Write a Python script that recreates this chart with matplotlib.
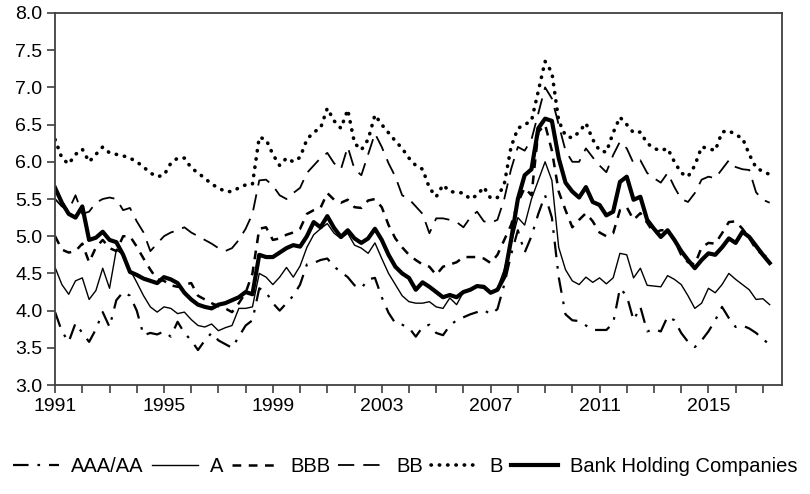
import numpy as np
import matplotlib
matplotlib.use("Agg")
import matplotlib.pyplot as plt

plt.rcParams['font.family'] = ['Liberation Sans', 'DejaVu Sans']

# quarterly spreads, 1991Q1 .. 2017Q2
aaa_aa = [3.98, 3.72, 3.58, 3.83, 3.70, 3.58, 3.75, 3.98, 3.78, 4.14,
          4.25, 4.20, 4.00, 3.67, 3.70, 3.68, 3.72, 3.65, 3.85, 3.70,
          3.60, 3.47, 3.60, 3.70, 3.60, 3.55, 3.50, 3.65, 3.80, 3.87,
          4.30, 4.25, 4.10, 4.00, 4.10, 4.20, 4.35, 4.62, 4.64, 4.68,
          4.70, 4.59, 4.52, 4.45, 4.34, 4.30, 4.42, 4.44, 4.18, 3.97,
          3.83, 3.81, 3.77, 3.65, 3.78, 3.81, 3.70, 3.67, 3.80, 3.87,
          3.91, 3.95, 3.98, 4.01, 3.95, 4.02, 4.35, 4.75, 5.08, 4.78,
          5.00, 5.30, 5.55, 5.25, 4.45, 3.95, 3.87, 3.86, 3.80, 3.74,
          3.74, 3.74, 3.83, 4.30, 4.20, 3.87, 4.05, 3.72, 3.75, 3.72,
          3.92, 3.87, 3.70, 3.58, 3.51, 3.60, 3.72, 3.87, 4.05, 3.90,
          3.78, 3.80, 3.76, 3.70, 3.62, 3.54]
a_rated = [4.58, 4.35, 4.22, 4.40, 4.44, 4.15, 4.27, 4.57, 4.30, 4.82,
           4.75, 4.55, 4.38, 4.20, 4.05, 3.98, 4.05, 4.03, 3.96, 3.98,
           3.88, 3.80, 3.78, 3.82, 3.73, 3.77, 3.80, 4.03, 4.03, 4.05,
           4.50, 4.45, 4.35, 4.45, 4.58, 4.45, 4.60, 4.85, 5.02, 5.10,
           5.17, 5.04, 4.97, 5.04, 4.88, 4.84, 4.77, 4.91, 4.70, 4.50,
           4.35, 4.20, 4.12, 4.10, 4.10, 4.12, 4.05, 4.03, 4.17, 4.08,
           4.25, 4.28, 4.32, 4.30, 4.24, 4.30, 4.55, 4.90, 5.25, 5.15,
           5.50, 5.75, 6.00, 5.75, 4.85, 4.55, 4.40, 4.35, 4.45, 4.38,
           4.44, 4.36, 4.44, 4.77, 4.75, 4.44, 4.57, 4.34, 4.33, 4.32,
           4.47, 4.42, 4.35, 4.20, 4.03, 4.10, 4.30, 4.24, 4.35, 4.50,
           4.42, 4.35, 4.28, 4.15, 4.16, 4.08]
bbb = [5.00, 4.82, 4.78, 4.80, 4.90, 4.65, 4.85, 4.95, 4.84, 4.80,
       5.00, 5.00, 4.86, 4.70, 4.55, 4.42, 4.40, 4.34, 4.32, 4.35,
       4.37, 4.20, 4.15, 4.10, 4.06, 4.03, 3.98, 4.10, 4.24, 4.50,
       5.10, 5.12, 4.95, 4.97, 5.02, 5.05, 5.10, 5.30, 5.35, 5.38,
       5.58, 5.49, 5.45, 5.49, 5.39, 5.38, 5.48, 5.50, 5.39, 5.15,
       4.97, 4.85, 4.75, 4.68, 4.62, 4.59, 4.48, 4.59, 4.62, 4.65,
       4.72, 4.72, 4.72, 4.70, 4.64, 4.75, 4.95, 5.15, 5.45, 5.65,
       5.55, 6.40, 6.50, 6.15, 5.60, 5.35, 5.12, 5.22, 5.31, 5.20,
       5.05, 5.00, 5.04, 5.35, 5.39, 5.22, 5.31, 5.18, 5.04, 5.08,
       5.08, 4.95, 4.75, 4.65, 4.62, 4.85, 4.91, 4.90, 5.04, 5.19,
       5.20, 5.10, 4.98, 4.82, 4.75, 4.70]
bb = [5.50, 5.40, 5.35, 5.55, 5.30, 5.33, 5.45, 5.50, 5.52, 5.50,
      5.35, 5.38, 5.20, 5.05, 4.80, 4.90, 5.00, 5.05, 5.08, 5.12,
      5.05, 5.00, 4.95, 4.90, 4.84, 4.80, 4.84, 4.95, 5.10, 5.30,
      5.75, 5.76, 5.68, 5.55, 5.50, 5.58, 5.65, 5.85, 5.95, 6.05,
      6.12, 5.98, 5.90, 6.20, 5.90, 5.82, 6.10, 6.38, 6.20, 5.98,
      5.80, 5.55, 5.50, 5.40, 5.30, 5.04, 5.24, 5.24, 5.22, 5.19,
      5.12, 5.25, 5.33, 5.20, 5.18, 5.22, 5.50, 5.90, 6.20, 6.15,
      6.30, 6.65, 7.00, 6.85, 6.50, 6.15, 6.00, 6.00, 6.18, 6.06,
      5.95, 5.86, 6.09, 6.27, 6.18, 5.98, 6.02, 5.85, 5.78, 5.72,
      5.85, 5.66, 5.50, 5.46, 5.58, 5.76, 5.80, 5.78, 5.90, 6.02,
      5.93, 5.90, 5.89, 5.59, 5.49, 5.45]
b_rated = [6.30, 6.05, 5.97, 6.10, 6.17, 6.00, 6.10, 6.20, 6.12, 6.10,
           6.08, 6.05, 6.00, 5.93, 5.85, 5.80, 5.82, 5.98, 6.05, 6.05,
           5.92, 5.85, 5.78, 5.70, 5.65, 5.60, 5.60, 5.65, 5.69, 5.70,
           6.33, 6.30, 6.10, 5.95, 6.05, 6.00, 6.06, 6.30, 6.40, 6.45,
           6.72, 6.55, 6.45, 6.70, 6.25, 6.16, 6.30, 6.63, 6.50, 6.39,
           6.28, 6.18, 6.05, 5.95, 5.90, 5.65, 5.53, 5.69, 5.60, 5.59,
           5.58, 5.50, 5.55, 5.66, 5.51, 5.52, 5.70, 6.20, 6.45, 6.50,
           6.55, 6.95, 7.35, 7.20, 6.55, 6.35, 6.32, 6.40, 6.52, 6.30,
           6.15, 6.13, 6.39, 6.60, 6.50, 6.39, 6.40, 6.25, 6.18, 6.15,
           6.18, 6.00, 5.85, 5.80, 5.95, 6.20, 6.18, 6.15, 6.40, 6.42,
           6.36, 6.32, 6.10, 5.92, 5.87, 5.83]
bank_hc = [5.65, 5.45, 5.30, 5.25, 5.40, 4.95, 4.98, 5.06, 4.95, 4.92,
           4.75, 4.52, 4.48, 4.43, 4.40, 4.37, 4.45, 4.42, 4.37, 4.24,
           4.15, 4.08, 4.05, 4.03, 4.08, 4.10, 4.14, 4.18, 4.25, 4.22,
           4.75, 4.72, 4.72, 4.78, 4.84, 4.88, 4.86, 5.00, 5.19, 5.12,
           5.27, 5.11, 4.99, 5.08, 4.97, 4.91, 4.97, 5.10, 4.95, 4.75,
           4.59, 4.50, 4.44, 4.28, 4.38, 4.32, 4.25, 4.18, 4.21, 4.18,
           4.25, 4.28, 4.33, 4.32, 4.24, 4.28, 4.45, 4.95, 5.50, 5.82,
           5.90, 6.45, 6.58, 6.55, 6.05, 5.72, 5.60, 5.52, 5.66, 5.46,
           5.42, 5.28, 5.33, 5.73, 5.80, 5.49, 5.53, 5.22, 5.10, 4.99,
           5.08, 4.95, 4.80, 4.68, 4.57, 4.68, 4.77, 4.75, 4.85, 4.97,
           4.91, 5.06, 4.99, 4.87, 4.75, 4.64]

labels = ['AAA/AA', 'A', 'BBB', 'BB', 'B', 'Bank Holding Companies']
year_labels = [1991, 1995, 1999, 2003, 2007, 2011, 2015]

t = 1991 + np.arange(len(bank_hc)) / 4.0

fig = plt.figure(figsize=(8.1, 4.94), dpi=100)
ax = fig.add_axes([0.068, 0.2206, 0.897, 0.7531])

ax.plot(t, aaa_aa, color='black', lw=1.6, linestyle=(0, (7, 4, 1.2, 4)), label=labels[0])
ax.plot(t, a_rated, color='black', lw=1.0, label=labels[1])
ax.plot(t, bbb, color='black', lw=1.8, linestyle=(0, (3.5, 3)), label=labels[2])
ax.plot(t, bb, color='black', lw=1.3, linestyle=(0, (9, 5)), label=labels[3])
ax.plot(t, b_rated, color='black', lw=2.6, linestyle=(0, (0.1, 2.2)),
        dash_capstyle='round', label=labels[4])
ax.plot(t, bank_hc, color='black', lw=3.0, label=labels[5])

ax.set_xlim(1991, 2017.69)
ax.set_ylim(3.0, 8.0)
ax.set_yticks(np.arange(3.0, 8.01, 0.5))
ax.set_yticklabels(['%.1f' % v for v in np.arange(3.0, 8.01, 0.5)])
ax.set_xticks(np.arange(1991, 2018), minor=True)
ax.set_xticks(year_labels)
ax.set_xticklabels([str(y) for y in year_labels])
ax.tick_params(axis='both', which='both', direction='out', labelsize=14,
               color='#404040', width=1.2)
ax.tick_params(axis='x', which='both', length=6)
ax.tick_params(axis='y', length=6, pad=3)
for s in ax.spines.values():
    s.set_color('#404040')
    s.set_linewidth(1.3)

fig.legend(loc='center', bbox_to_anchor=(0.5, 0.055), ncol=6, frameon=False,
           fontsize=14.5, handlelength=2.3, handletextpad=0.6, columnspacing=0.4)

fig.savefig('out.png', dpi=100)
